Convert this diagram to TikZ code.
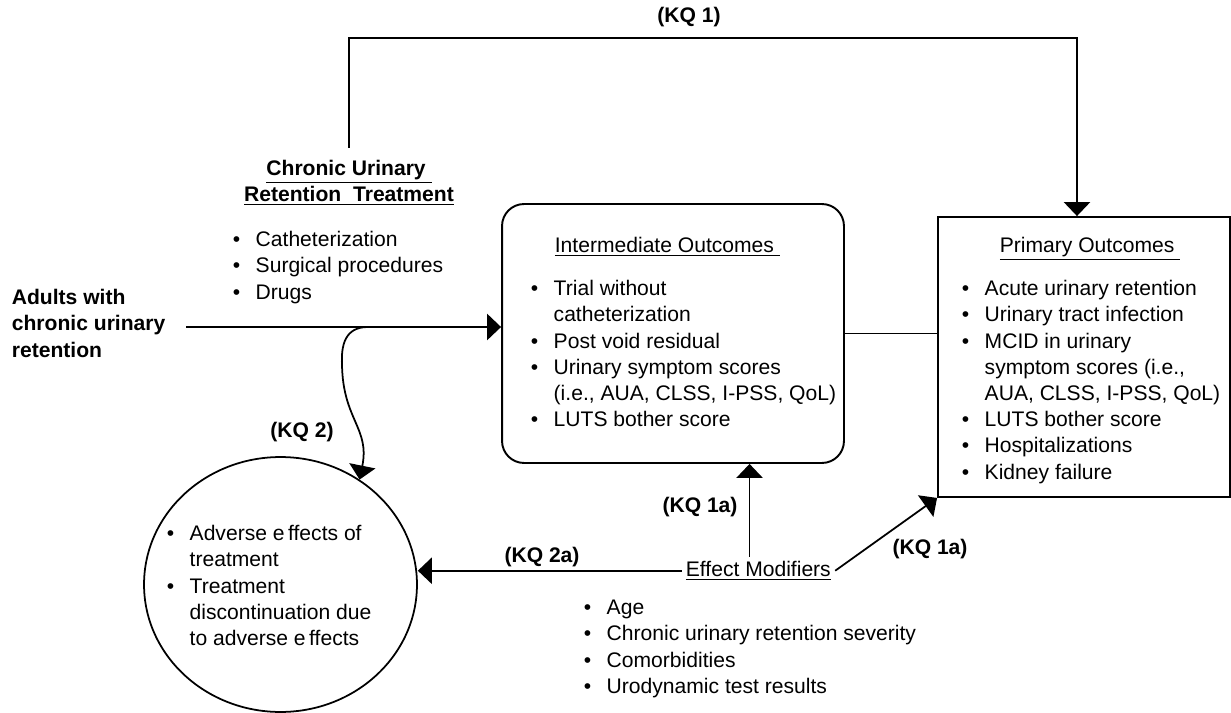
\documentclass[tikz,border=0pt]{standalone}
\usepackage{fontspec}
\setmainfont{Liberation Sans}
\usetikzlibrary{arrows.meta,shapes.geometric}

% Bullet and hanging indent for the lists
\newcommand{\bul}{\strut\makebox[13pt][l]{\textbullet}}
\newcommand{\ind}{\strut\hspace{13pt}}

\tikzset{
  txt/.style={font=\fontsize{12}{14.9}\selectfont, inner sep=0pt, align=left, anchor=north west},
  kq/.style={font=\fontsize{12}{14.9}\selectfont\bfseries, anchor=base},
  arr/.style={-{Triangle[length=8pt,width=15pt]}},
}

\begin{document}
\begin{tikzpicture}[x=0.02cm, y=-0.02cm, line width=1pt]

  % Fix the size of the picture
  \useasboundingbox (0,0) rectangle (1231,713);

  % Define the population
  \node[txt, font=\fontsize{12}{14.9}\selectfont\bfseries] (adults) at (11,285.6)
    {\strut Adults with\\chronic urinary\\retention};

  % Define the treatment heading and list
  \node[font=\fontsize{12}{14.9}\selectfont\bfseries, align=center, anchor=north,
        inner xsep=0pt, inner ysep=4.9pt] (treat) at (349,148)
    {\strut\underline{Chronic Urinary\ }\\\underline{Retention\ \ Treatment}};
  \node[txt] (treatlist) at (232,227.6)
    {\bul Catheterization\\\bul Surgical procedures\\\bul Drugs};

  % Draw the intermediate outcomes box
  \node[draw, rounded corners=12.5pt, line width=1.1pt, minimum width=6.84cm,
        minimum height=5.18cm] (inter) at (673,333.5) {};
  \node[txt] (interhead) at (554,233.6) {\strut\underline{Intermediate Outcomes\ }};
  \node[txt] (interlist) at (530,276.6)
    {\bul Trial without\\\ind catheterization\\\bul Post void residual\\
     \bul Urinary symptom scores\\\ind (i.e., AUA, CLSS, I-PSS, QoL)\\
     \bul LUTS bother score};

  % Draw the primary outcomes box
  \node[draw, line width=1.1pt, minimum width=5.84cm, minimum height=5.6cm]
    (prim) at (1084,357) {};
  \node[txt] (primhead) at (999,233.6) {\strut\underline{Primary Outcomes\ }};
  \node[txt] (primlist) at (961,276.6)
    {\bul Acute urinary retention\\\bul Urinary tract infection\\
     \bul MCID in urinary\\\ind symptom scores (i.e.,\\\ind AUA, CLSS, I-PSS, QoL)\\
     \bul LUTS bother score\\\bul Hospitalizations\\\bul Kidney failure};

  % Draw the adverse effects circle
  \node[draw, ellipse, inner sep=0pt, minimum width=5.46cm, minimum height=5.1cm]
    (adv) at (280.5,584.5) {};
  \node[txt] (advlist) at (166,521.6)
    {\bul Adverse e\kern2pt ffects of\\\ind treatment\\\bul Treatment\\
     \ind discontinuation due\\\ind to adverse e\kern2pt ffects};

  % Define the effect modifiers
  \node[font=\fontsize{12}{14.9}\selectfont, anchor=base west, inner sep=2pt]
    (eff) at (681.5,576.5) {\underline{Effect Modifiers}};
  \node[txt] (efflist) at (583,595.6)
    {\bul Age\\\bul Chronic urinary retention severity\\\bul Comorbidities\\
     \bul Urodynamic test results};

  % Add labels for the key questions
  \node[kq] (kq1) at (689,23) {(KQ 1)};
  \node[kq] (kq2) at (302,437) {(KQ 2)};
  \node[kq] (kq2a) at (542,562) {(KQ 2a)};
  \node[kq] (kq1a) at (700,512) {(KQ 1a)};
  \node[kq] (kq1b) at (930,554) {(KQ 1a)};

  % Define the free ends of the connectors
  \coordinate (ain) at (186,327);
  \coordinate (kqs) at (368,327);
  \coordinate (k1) at (1077,38);

  % Draw the connectors
  \draw[arr] (ain) -- (ain -| inter.west);
  \draw[arr] (treat.north) |- (k1) -- (k1 |- prim.north);
  \draw (inter.east) -- (inter.east -| prim.west);
  \draw[arr] (kqs) .. controls (345,327) and (341,345) .. (342,365)
    .. controls (343,420) and (370,428) .. (adv.53.6);
  \draw[arr] ([xshift=-5pt]eff.north) -- ([xshift=-5pt]eff.north |- inter.south);
  \draw[arr] (eff.west) -- (eff.west -| adv.east);
  \draw[arr] (eff.east) -- (prim.south west);

\end{tikzpicture}
\end{document}
